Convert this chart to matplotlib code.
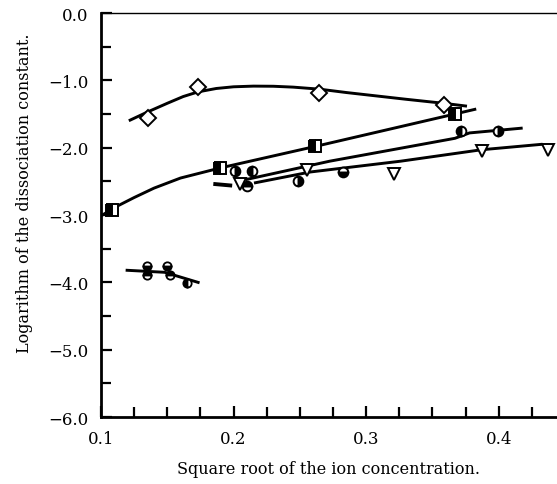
import matplotlib
matplotlib.use("Agg")
import matplotlib.pyplot as plt
from matplotlib.ticker import MultipleLocator, FuncFormatter

# values
diamond_x = [0.1355, 0.1733, 0.2648, 0.3585]
diamond_y = [-1.56, -1.10, -1.19, -1.37]
diamond_curve_x = [0.122, 0.135, 0.150, 0.162, 0.1733, 0.187, 0.200, 0.215,
                   0.230, 0.245, 0.2648, 0.285, 0.303, 0.330, 0.3585, 0.375]
diamond_curve_y = [-1.59, -1.47, -1.34, -1.24, -1.17, -1.12, -1.095, -1.085,
                   -1.087, -1.10, -1.13, -1.18, -1.22, -1.28, -1.34, -1.38]

square_x = [0.1083, 0.190, 0.2618, 0.3668]
square_y = [-2.93, -2.30, -1.98, -1.50]
square_curve_x = [0.101, 0.112, 0.125, 0.140, 0.160, 0.190, 0.2618, 0.3668, 0.382]
square_curve_y = [-3.00, -2.87, -2.74, -2.60, -2.45, -2.30, -1.98, -1.50, -1.43]

circle_x = [0.2013, 0.2141, 0.2104, 0.2489, 0.2829, 0.3713, 0.3993]
circle_y = [-2.35, -2.35, -2.57, -2.50, -2.36, -1.75, -1.75]
circle_fill = ["right", "left", "top", "right", "bottom", "left", "right"]
circle_line_x = [0.210, 0.2725, 0.367, 0.378, 0.417]
circle_line_y = [-2.47, -2.20, -1.86, -1.78, -1.71]

triangle_x = [0.2051, 0.2557, 0.3207, 0.3872, 0.4371]
triangle_y = [-2.54, -2.33, -2.39, -2.05, -2.04]
triangle_line_x = [0.2165, 0.258, 0.326, 0.387, 0.432]
triangle_line_y = [-2.52, -2.36, -2.20, -2.03, -1.95]
dash_x = [0.1862, 0.1975]
dash_y = [-2.54, -2.56]

low_x = [0.1348, 0.1348, 0.1499, 0.1522, 0.165]
low_y = [-3.76, -3.89, -3.76, -3.89, -4.01]
low_fill = ["bottom", "top", "bottom", "top", "left"]
low_line_x = [0.1197, 0.148, 0.1733]
low_line_y = [-3.82, -3.85, -4.00]

plt.rcParams["font.family"] = "DejaVu Serif"

fig = plt.figure(figsize=(5.57, 4.85), dpi=100)
ax = fig.add_axes([0.1813, 0.138, 0.8187, 0.833])

lw = 2.1
ax.plot(diamond_curve_x, diamond_curve_y, color="black", lw=lw)
ax.plot(square_curve_x, square_curve_y, color="black", lw=lw)
ax.plot(circle_line_x, circle_line_y, color="black", lw=lw)
ax.plot(triangle_line_x, triangle_line_y, color="black", lw=lw)
ax.plot(dash_x, dash_y, color="black", lw=2.8)
ax.plot(low_line_x, low_line_y, color="black", lw=lw)

ax.plot(diamond_x, diamond_y, ls="none", marker="D", ms=8.5, mfc="white",
        mec="black", mew=1.4)
ax.plot(square_x, square_y, ls="none", marker="s", ms=8, fillstyle="left",
        mfc="black", mfcalt="white", mec="black", mew=1.4)
for x, y, f in zip(circle_x, circle_y, circle_fill):
    ax.plot(x, y, ls="none", marker="o", ms=7, fillstyle=f, mfc="black",
            mfcalt="white", mec="black", mew=1.4)
ax.plot(triangle_x, triangle_y, ls="none", marker="v", ms=8, mfc="white",
        mec="black", mew=1.4)
for x, y, f in zip(low_x, low_y, low_fill):
    ax.plot(x, y, ls="none", marker="o", ms=6, fillstyle=f, mfc="black",
            mfcalt="white", mec="black", mew=1.3)

ax.set_xlim(0.1, 0.444)
ax.set_ylim(-6.0, 0.0)

ax.xaxis.set_major_locator(MultipleLocator(0.1))
ax.xaxis.set_minor_locator(MultipleLocator(0.025))
ax.yaxis.set_major_locator(MultipleLocator(1.0))
ax.yaxis.set_minor_locator(MultipleLocator(0.5))
ax.xaxis.set_major_formatter(FuncFormatter(lambda v, p: f"{v:.1f}"))
ax.yaxis.set_major_formatter(
    FuncFormatter(lambda v, p: f"{v:.1f}".replace("-", "\u2212")))

ax.tick_params(which="both", direction="in", width=1.6, labelsize=12,
               top=False, right=False)
ax.tick_params(which="major", length=8, pad=9)
ax.tick_params(which="minor", length=7)

ax.spines["right"].set_visible(False)
ax.spines["left"].set_linewidth(2.0)
ax.spines["bottom"].set_linewidth(2.0)
ax.spines["top"].set_linewidth(1.0)

ax.set_xlabel("Square root of the ion concentration.", fontsize=11.5, labelpad=10)
ax.set_ylabel("Logarithm of the dissociation constant.", fontsize=11.5)
ax.yaxis.set_label_coords(-0.15, 0.557)

fig.savefig("out.png", dpi=100)
